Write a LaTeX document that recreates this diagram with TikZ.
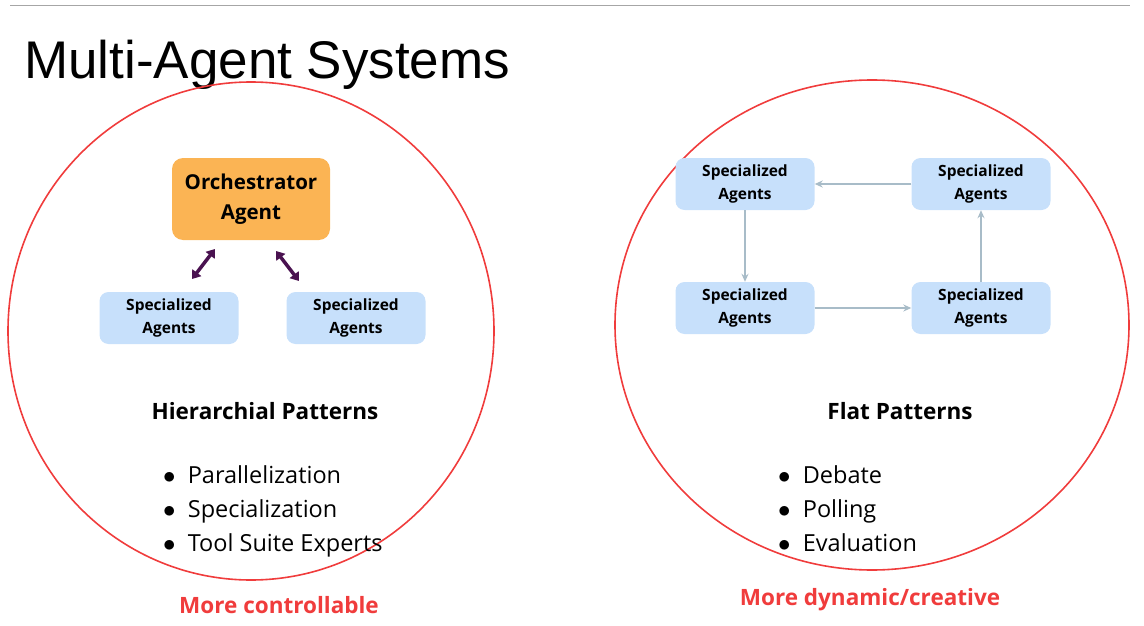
\documentclass[tikz,border=0pt]{standalone}
\usepackage{fontspec}
\setmainfont{Open Sans}
\newfontfamily\titlefont{Liberation Sans}
\usetikzlibrary{arrows.meta}
\definecolor{ringred}{HTML}{F03C3C}
\definecolor{orch}{HTML}{FBB454}
\definecolor{agentblue}{HTML}{C7E0FB}
\definecolor{linkpurple}{HTML}{4A1250}
\definecolor{flowgray}{HTML}{A8BCC8}
\tikzset{
  agent/.style={fill=agentblue, rounded corners=9pt, minimum width=139pt, minimum height=52pt,
    align=center, font=\fontsize{15.5}{23}\selectfont\bfseries, inner sep=0pt},
  boss/.style={fill=orch, rounded corners=11pt, minimum width=158pt, minimum height=82pt,
    align=center, font=\fontsize{20.5}{30}\selectfont\bfseries, inner sep=0pt},
  link/.style={linkpurple, line width=3.5pt, {Triangle[length=8pt,width=11pt]}-{Triangle[length=8pt,width=11pt]}},
  flow/.style={flowgray, line width=1.6pt, -{Stealth[length=8pt,width=7pt]}},
  ring/.style={ringred, line width=1.6pt},
  heading/.style={font=\fontsize{22.5}{27}\selectfont\bfseries},
  items/.style={font=\fontsize{23.5}{34}\selectfont, align=left, anchor=north west, inner sep=0pt},
  verdict/.style={ringred, font=\fontsize{22.5}{27}\selectfont\bfseries}
}
\begin{document}
\begin{tikzpicture}[x=1pt,y=-1pt]
\useasboundingbox (0,0) rectangle (1144,626);
\draw[gray!70, line width=0.8pt] (10,5) -- (1130,5);
\node[anchor=base west, inner sep=0pt, font=\titlefont\fontsize{53}{60}\selectfont] (title) at (24,78) {Multi-Agent Systems};
% hierarchical side
\draw[ring] (251,331) ellipse [x radius=243, y radius=249];
\node[boss] (orch) at (251,199) {Orchestrator\\Agent};
\node[agent] (subl) at (169,318) {Specialized\\Agents};
\node[agent] (subr) at (356,318) {Specialized\\Agents};
\coordinate (la) at (192,279); \coordinate (lb) at (215,249);
\coordinate (ra) at (276,251); \coordinate (rb) at (299,281);
\draw[link] (la) -- (lb);
\draw[link] (ra) -- (rb);
\node[heading] (hier) at (265,411) {Hierarchial Patterns};
\node[items] (hlist) at (163,465) {$\bullet$\ \ Parallelization\\$\bullet$\ \ Specialization\\$\bullet$\ \ Tool Suite Experts};
\node[verdict] (ctrl) at (279,605) {More controllable};
% flat side
\draw[ring] (872,325) ellipse [x radius=257, y radius=245];
\node[agent] (tl) at (745,184) {Specialized\\Agents};
\node[agent] (tr) at (981,184) {Specialized\\Agents};
\node[agent] (bl) at (745,308) {Specialized\\Agents};
\node[agent] (br) at (981,308) {Specialized\\Agents};
\draw[flow] (tr) -- (tl);
\draw[flow] (tl) -- (bl);
\draw[flow] (bl) -- (br);
\draw[flow] (br) -- (tr);
\node[heading] (flat) at (900,411) {Flat Patterns};
\node[items] (flist) at (778,465) {$\bullet$\ \ Debate\\$\bullet$\ \ Polling\\$\bullet$\ \ Evaluation};
\node[verdict] (dyn) at (870,600) {More dynamic/creative};
\end{tikzpicture}
\end{document}
